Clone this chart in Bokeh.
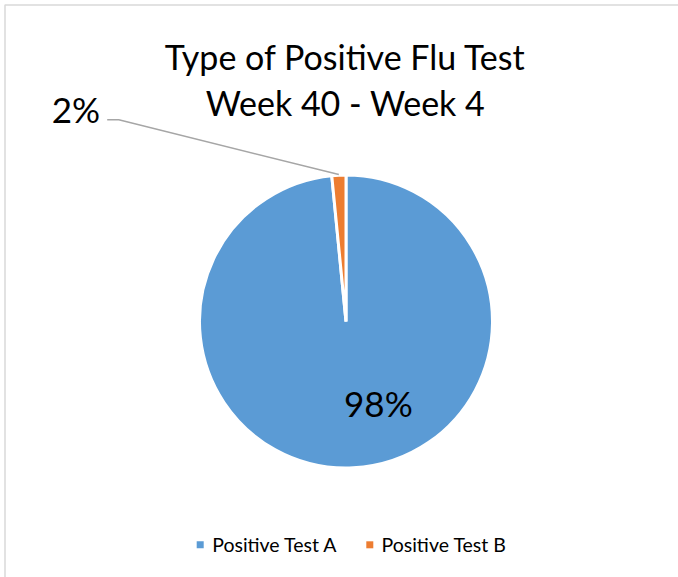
import numpy as np
from bokeh.plotting import figure
from bokeh.models import Range1d, ColumnDataSource
from bokeh.core.properties import value
from bokeh.embed import file_html
from bokeh.resources import INLINE

# ---- data ----
categories = ["Positive Test A", "Positive Test B"]
shares = [98.45, 1.55]
colors = ["#5B9BD5", "#ED7D31"]
title_lines = ["Type of Positive Flu Test", "Week 40 - Week 4"]

# ---- layout (page pixel coordinates; data y = H - page_y) ----
W, H = 678, 577
FONT = "Lato"

def Y(py):
    return H - py

p = figure(width=W, height=H, output_backend="svg", toolbar_location=None,
           x_range=Range1d(0, W), y_range=Range1d(0, H),
           x_axis_type=None, y_axis_type=None, min_border=0)
p.outline_line_color = None
p.grid.visible = False
p.background_fill_color = "white"
p.border_fill_color = "white"

# chart area border (top and left visible in the reference)
p.line([4.5, 4.5, W], [0, Y(4.5), Y(4.5)], line_color="#D9D9D9", line_width=1.5)

# ---- pie ----
cx, cy, R = 345.5, Y(321), 145.0
vals = np.array(shares, dtype=float)
frac = vals / vals.sum()
cum = np.concatenate([[0], np.cumsum(frac)])
start = np.pi / 2 - cum[:-1] * 2 * np.pi
end = np.pi / 2 - cum[1:] * 2 * np.pi
mid = (start + end) / 2

src = ColumnDataSource(dict(start=start, end=end, color=colors, cat=categories))
p.wedge(x=cx, y=cy, radius=R + 1.5, start_angle="start", end_angle="end",
        direction="clock", fill_color="color", line_color="white", line_width=3,
        source=src)

labels = [f"{round(v / vals.sum() * 100):.0f}%" for v in vals]

# label A inside the slice
lax = cx + 0.62 * R * np.cos(mid[0]) + 28
lay = cy + 0.62 * R * np.sin(mid[0]) + 8
p.text(x=[lax], y=[lay], text=[labels[0]], text_font=value(FONT), text_font_size="35px",
       text_align="center", text_baseline="middle", text_color="#000000")

# label B outside with leader line
ex = cx + 1.015 * R * np.cos(mid[1])
ey = cy + 1.015 * R * np.sin(mid[1])
elbow_x, elbow_y = 118.3, Y(119.3)
tail_x = 106.7
p.line([ex, elbow_x, tail_x], [ey, elbow_y, elbow_y], line_color="#A6A6A6", line_width=1.5)
p.text(x=[99.5], y=[Y(108.5)], text=[labels[1]], text_font=value(FONT), text_font_size="35px",
       text_align="right", text_baseline="alphabetic", text_color="#000000")

# ---- title ----
p.text(x=[345, 345], y=[Y(56.3), Y(102.3)], text=title_lines, text_font=value(FONT),
       text_font_size="34px", text_align="center", text_baseline="alphabetic",
       text_color="#000000")

# ---- legend ----
leg_sq_x = [199.7, 369.3]
leg_txt_x = [211.7, 381.0]
p.scatter(x=leg_sq_x, y=[Y(544.3)] * 2, marker="square", size=7, fill_color=colors,
          line_color=None)
p.text(x=leg_txt_x, y=[Y(543.5)] * 2, text=categories, text_font=value(FONT),
       text_font_size="19.5px", text_align="left", text_baseline="alphabetic",
       text_color="#000000")

open("out.html", "w").write(file_html(p, INLINE))
